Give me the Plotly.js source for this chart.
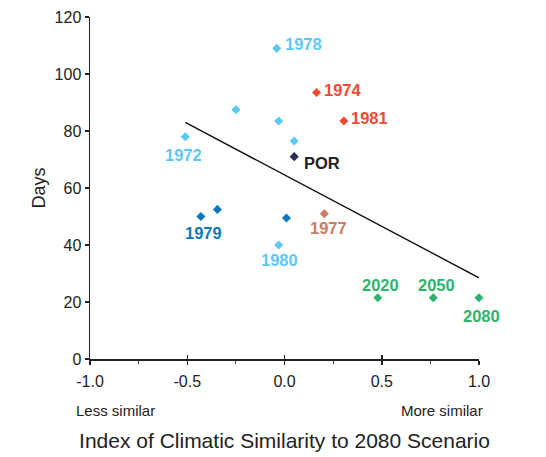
<!DOCTYPE html>
<html>
<head>
<meta charset="utf-8">
<script src="https://cdn.plot.ly/plotly-3.0.1.min.js"></script>
<style>html,body{margin:0;padding:0;background:#fff;}#chart{width:546px;height:457px;}</style>
</head>
<body>
<div id="chart"></div>
<script>
// ---- data ----
const pointX     = [-0.51, -0.25, -0.04, -0.03, 0.05, -0.03, 0.165, 0.305, 0.05, -0.43, -0.345, 0.01, 0.205, 0.48, 0.765, 1.0];
const pointY     = [78, 87.5, 109, 83.5, 76.5, 40, 93.5, 83.5, 71, 50, 52.5, 49.5, 51, 21.5, 21.5, 21.5];
const pointLabel = ['1972', '', '1978', '', '', '1980', '1974', '1981', 'POR', '1979', '', '', '1977', '2020', '2050', '2080'];
const pointGroup = ['light', 'light', 'light', 'light', 'light', 'light', 'red', 'red', 'por', 'dark', 'dark', 'dark', 'brown', 'green', 'green', 'green'];
const trendX = [-0.51, 1.0];
const trendY = [83, 28.5];
const xTickVals = [-1.0, -0.5, 0.0, 0.5, 1.0];
const xTickText = ['-1.0', '-0.5', '0.0', '0.5', '1.0'];
const yTickVals = [0, 20, 40, 60, 80, 100, 120];

// ---- styles ----
const groupColor = {light: '#5cc9f5', red: '#ef4b33', por: '#2c2c5c', dark: '#0a78bd', brown: '#c97d65', green: '#2db46c'};
const labelColor = {light: '#5cc9f5', red: '#ef4b33', por: '#222222', dark: '#0a78bd', brown: '#c97d65', green: '#2db46c'};
const labelPlace = {
  '1978': {xanchor: 'left', xshift: 6, yshift: 4},
  '1974': {xanchor: 'left', xshift: 5, yshift: 3},
  '1981': {xanchor: 'left', xshift: 5, yshift: 3},
  '1972': {xanchor: 'center', xshift: -2, yshift: -18},
  'POR':  {xanchor: 'left', xshift: 8, yshift: -6},
  '1979': {xanchor: 'center', xshift: 3, yshift: -16},
  '1977': {xanchor: 'center', xshift: 4, yshift: -14},
  '1980': {xanchor: 'center', xshift: 1, yshift: -15},
  '2020': {xanchor: 'center', xshift: 3, yshift: 13},
  '2050': {xanchor: 'center', xshift: 3, yshift: 13},
  '2080': {xanchor: 'center', xshift: 2, yshift: -18}
};
const FONT = '"Liberation Sans", Arial, sans-serif';

const groups = ['light', 'red', 'por', 'dark', 'brown', 'green'];
const traces = [{
  x: trendX, y: trendY, mode: 'lines', type: 'scatter',
  line: {color: '#111', width: 1.4}, hoverinfo: 'skip', cliponaxis: false
}];
groups.forEach(g => {
  const xs = [], ys = [];
  pointX.forEach((v, i) => { if (pointGroup[i] === g) { xs.push(v); ys.push(pointY[i]); } });
  traces.push({
    x: xs, y: ys, mode: 'markers', type: 'scatter', cliponaxis: false,
    marker: {symbol: 'diamond', size: 7, color: groupColor[g]}
  });
});

const annotations = [];
pointLabel.forEach((t, i) => {
  if (!t) return;
  const p = labelPlace[t];
  annotations.push({
    x: pointX[i], y: pointY[i], xref: 'x', yref: 'y', text: '<b>' + t + '</b>', showarrow: false,
    xanchor: p.xanchor, yanchor: 'middle', xshift: p.xshift, yshift: p.yshift,
    font: {family: FONT, size: 16.5, color: labelColor[pointGroup[i]]}
  });
});
annotations.push({xref: 'paper', yref: 'paper', x: 0, y: 0, xanchor: 'left', yanchor: 'middle', xshift: -16, yshift: -51,
  text: 'Less similar', showarrow: false, font: {family: FONT, size: 15, color: '#222'}});
annotations.push({xref: 'paper', yref: 'paper', x: 1, y: 0, xanchor: 'right', yanchor: 'middle', xshift: 6, yshift: -51,
  text: 'More similar', showarrow: false, font: {family: FONT, size: 15, color: '#222'}});

const layout = {
  width: 546, height: 457,
  margin: {l: 90, r: 67, t: 17, b: 98},
  paper_bgcolor: '#fff', plot_bgcolor: '#fff',
  showlegend: false,
  font: {family: FONT, color: '#222'},
  xaxis: {
    range: [-1, 1], tickvals: xTickVals, ticktext: xTickText,
    showgrid: false, zeroline: false, showline: true, linecolor: '#222', linewidth: 1.5,
    ticks: 'outside', ticklen: 4, tickwidth: 1.5, tickcolor: '#222',
    minor: {dtick: 0.25, ticks: 'outside', ticklen: 3, tickwidth: 1, tickcolor: '#444'},
    tickfont: {family: FONT, size: 16, color: '#222'},
    ticklabelstandoff: 3,
    title: {text: 'Index of Climatic Similarity to 2080 Scenario', font: {family: FONT, size: 21, color: '#222'}, standoff: 44}
  },
  xaxis2: {
    range: [-1, 1], overlaying: 'x', anchor: 'y', side: 'bottom', tickvals: xTickVals,
    showticklabels: false, showgrid: false, zeroline: false, showline: false,
    ticks: 'inside', ticklen: 4, tickwidth: 1.5, tickcolor: '#222'
  },
  yaxis: {
    range: [0, 120], tickvals: yTickVals,
    showgrid: false, zeroline: false, showline: true, linecolor: '#222', linewidth: 1.5,
    ticks: 'outside', ticklen: 4, tickwidth: 1.5, tickcolor: '#222',
    tickfont: {family: FONT, size: 16, color: '#222'},
    title: {text: 'Days', font: {family: FONT, size: 18, color: '#222'}, standoff: 4}
  },
  annotations: annotations
};
traces.push({x: [0], y: [0], xaxis: 'x2', mode: 'markers', marker: {opacity: 0}, hoverinfo: 'skip', type: 'scatter'});

Plotly.newPlot('chart', traces, layout, {displayModeBar: false, staticPlot: true});
</script>
</body>
</html>
